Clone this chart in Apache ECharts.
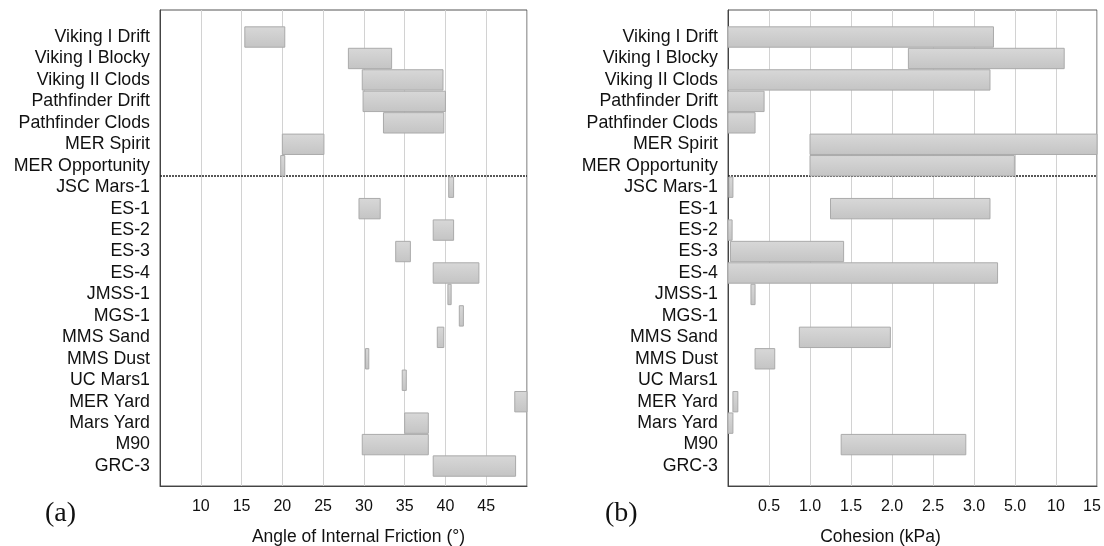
<!DOCTYPE html>
<html>
<head>
<meta charset="utf-8">
<script src="https://cdn.jsdelivr.net/npm/echarts@6/dist/echarts.min.js"></script>
<style>
html,body{margin:0;padding:0;background:#fff;}
#chart{width:1104px;height:546px;}
</style>
</head>
<body>
<div id="chart"></div>
<script>
// ---- data ----
const categories = ['Viking I Drift','Viking I Blocky','Viking II Clods','Pathfinder Drift','Pathfinder Clods','MER Spirit','MER Opportunity','JSC Mars-1','ES-1','ES-2','ES-3','ES-4','JMSS-1','MGS-1','MMS Sand','MMS Dust','UC Mars1','MER Yard','Mars Yard','M90','GRC-3'];
// Angle of internal friction (degrees), low / high
const frictionLow  = [15.4, 28.1, 29.8, 29.9, 32.4, 20.0, 19.8, 40.4, 29.4, 38.5, 33.9, 38.5, 40.3, 41.7, 39.0, 30.2, 34.7, 48.5, 35.0, 29.8, 38.5];
const frictionHigh = [20.3, 33.4, 39.7, 40.0, 39.8, 25.1, 20.3, 41.0, 32.0, 41.0, 35.7, 44.1, 40.7, 42.2, 39.8, 30.6, 35.2, 50.0, 37.9, 37.9, 48.6];
// Cohesion (kPa), low / high (null = not reported)
const cohesionLow  = [0, 2.2, 0, 0, 0, 1.0, 1.0, 0.01, 1.25, 0, 0.03, 0, 0.28, null, 0.87, 0.33, null, 0.06, 0, 1.38, null];
const cohesionHigh = [3.95, 11, 3.78, 0.44, 0.33, 15, 4.97, 0.06, 3.78, 0.05, 1.41, 4.15, 0.33, null, 1.98, 0.57, null, 0.12, 0.06, 2.9, null];
// tick labels
const frictionTicks = [5, 10, 15, 20, 25, 30, 35, 40, 45, 50];
const cohesionTicks = [0, 0.5, 1.0, 1.5, 2.0, 2.5, 3.0, 5.0, 10, 15];
const cohesionTickLabels = ['', '0.5', '1.0', '1.5', '2.0', '2.5', '3.0', '5.0', '10', '15'];
const separatorAfter = 6; // MER Opportunity: end of mission data

// ---- piecewise cohesion scale (axis is index of tick) ----
function kPaToPos(v) {
  for (let i = 0; i < cohesionTicks.length - 1; i++) {
    if (v <= cohesionTicks[i + 1]) {
      return i + (v - cohesionTicks[i]) / (cohesionTicks[i + 1] - cohesionTicks[i]);
    }
  }
  return cohesionTicks.length - 1;
}

const frictionData = categories.map((c, i) => [frictionLow[i], frictionHigh[i], i]);
const cohesionData = [];
categories.forEach((c, i) => {
  if (cohesionLow[i] !== null && cohesionHigh[i] !== null) {
    cohesionData.push([kPaToPos(cohesionLow[i]), kPaToPos(cohesionHigh[i]), i]);
  }
});

const barFill = new echarts.graphic.LinearGradient(0, 0, 0, 1, [
  {offset: 0, color: '#d8d8d8'},
  {offset: 1, color: '#c4c4c4'}
]);

function renderBar(params, api) {
  const lo = api.value(0), hi = api.value(1), idx = api.value(2);
  const p1 = api.coord([lo, idx]);
  const p2 = api.coord([hi, idx]);
  const h = api.size([0, 0.95])[1];
  const rect = echarts.graphic.clipRectByRect({
    x: p1[0], y: p1[1] - h / 2, width: Math.max(p2[0] - p1[0], 3), height: h
  }, {
    x: params.coordSys.x, y: params.coordSys.y, width: params.coordSys.width, height: params.coordSys.height
  });
  return rect && {
    type: 'rect',
    shape: rect,
    style: {fill: barFill, stroke: '#aaaaaa', lineWidth: 1}
  };
}

const font = 'Liberation Sans';
const yMin = -1.26, yMax = 20.93;
const rowValues = categories.map((c, i) => i);

function yAxisDef(gridIndex) {
  return {
    type: 'value', gridIndex: gridIndex, inverse: true, min: yMin, max: yMax,
    splitLine: {show: false},
    axisTick: {show: false},
    axisLine: {show: true, onZero: false, lineStyle: {color: '#444', width: 1}},
    axisLabel: {
      customValues: rowValues,
      formatter: v => categories[Math.round(v)],
      color: '#111', fontSize: 17.8, fontFamily: font, margin: 10
    }
  };
}

const chart = echarts.init(document.getElementById('chart'));
chart.setOption({
  animation: false,
  backgroundColor: '#fff',
  grid: [
    {left: 160, right: 577, top: 10, bottom: 60, show: true, borderColor: '#555', borderWidth: 1, outerBoundsMode: 'none', containLabel: false},
    {left: 728, right: 7, top: 10, bottom: 60, show: true, borderColor: '#555', borderWidth: 1, outerBoundsMode: 'none', containLabel: false}
  ],
  xAxis: [
    {
      type: 'value', gridIndex: 0, min: frictionTicks[0], max: frictionTicks[frictionTicks.length - 1], interval: 5,
      name: 'Angle of Internal Friction (°)', nameLocation: 'middle', nameGap: 42,
      nameTextStyle: {color: '#111', fontSize: 17.5, fontFamily: font, padding: [0, 0, 0, 30]},
      axisLine: {show: true, onZero: false, lineStyle: {color: '#444'}},
      axisTick: {show: false},
      splitLine: {show: true, lineStyle: {color: '#d2d2d2', width: 1}},
      axisLabel: {
        color: '#111', fontSize: 16, fontFamily: font, margin: 13,
        formatter: v => (v === frictionTicks[0] || v === frictionTicks[frictionTicks.length - 1]) ? '' : String(v)
      }
    },
    {
      type: 'value', gridIndex: 1, min: 0, max: cohesionTicks.length - 1, interval: 1,
      name: 'Cohesion (kPa)', nameLocation: 'middle', nameGap: 42,
      nameTextStyle: {color: '#111', fontSize: 17.5, fontFamily: font, padding: [0, 64, 0, 0]},
      axisLine: {show: true, onZero: false, lineStyle: {color: '#444'}},
      axisTick: {show: false},
      splitLine: {show: true, lineStyle: {color: '#d2d2d2', width: 1}},
      axisLabel: {
        color: '#111', fontSize: 16, fontFamily: font, margin: 13,
        formatter: v => {
          const i = Math.round(v);
          return i === cohesionTicks.length - 1 ? '{last|' + cohesionTickLabels[i] + '}' : cohesionTickLabels[i];
        },
        rich: {last: {color: '#111', fontSize: 16, fontFamily: font, padding: [0, 10, 0, 0]}}
      }
    }
  ],
  yAxis: [yAxisDef(0), yAxisDef(1)],
  series: [
    {
      type: 'line', xAxisIndex: 0, yAxisIndex: 0, data: [], silent: true, z: 1,
      markLine: {
        z: 1, silent: true, symbol: ['none', 'none'], label: {show: false},
        lineStyle: {type: [2, 1], color: '#222', width: 1.5},
        data: [{yAxis: separatorAfter + 0.45}]
      }
    },
    {
      type: 'line', xAxisIndex: 1, yAxisIndex: 1, data: [], silent: true, z: 1,
      markLine: {
        z: 1, silent: true, symbol: ['none', 'none'], label: {show: false},
        lineStyle: {type: [2, 1], color: '#222', width: 1.5},
        data: [{yAxis: separatorAfter + 0.45}]
      }
    },
    {
      type: 'custom', name: 'Angle of Internal Friction', xAxisIndex: 0, yAxisIndex: 0, z: 5,
      renderItem: renderBar, encode: {x: [0, 1], y: 2}, data: frictionData
    },
    {
      type: 'custom', name: 'Cohesion', xAxisIndex: 1, yAxisIndex: 1, z: 5,
      renderItem: renderBar, encode: {x: [0, 1], y: 2}, data: cohesionData
    }
  ],
  graphic: [
    {type: 'text', left: 45, top: 500, style: {text: '(a)', fontSize: 28, fontFamily: 'Liberation Serif', fill: '#111'}},
    {type: 'text', left: 605, top: 500, style: {text: '(b)', fontSize: 28, fontFamily: 'Liberation Serif', fill: '#111'}}
  ]
});
</script>
</body>
</html>
